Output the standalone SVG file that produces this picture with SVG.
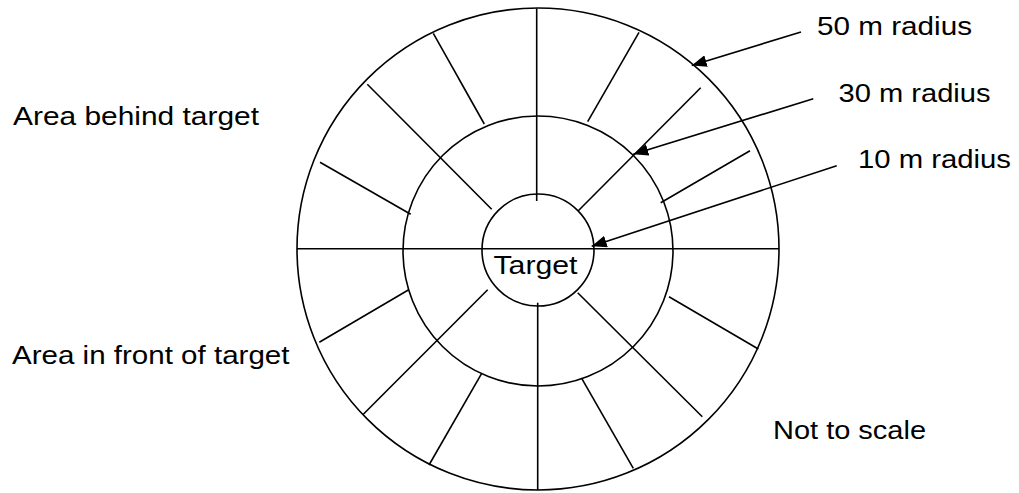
<svg xmlns="http://www.w3.org/2000/svg" width="1019" height="493" viewBox="0 0 1019 493">
<defs>
<style>
.ln{stroke:#000;stroke-width:1.6;fill:none}
.tx{font-family:"Liberation Sans",Arial,sans-serif;font-size:26.5px;fill:#000}
</style>
<marker id="ah" viewBox="0 0 15 12" refX="15" refY="6" markerWidth="15" markerHeight="12" markerUnits="userSpaceOnUse" orient="auto">
<path d="M0,0 L15,6 L0,12 Z" fill="#000"/>
</marker>
</defs>
<rect width="1019" height="493" fill="#fff"/>
<g id="rings">
<circle class="ln" cx="538" cy="249" r="241"/>
<circle class="ln" cx="538" cy="251" r="135"/>
<circle class="ln" cx="538" cy="250" r="56"/>
</g>
<g id="sectors">
<line class="ln" x1="297" y1="248.7" x2="779" y2="248.7"/>
<line class="ln" x1="536.7" y1="8.5" x2="536.7" y2="201"/>
<line class="ln" x1="537.7" y1="302.7" x2="537.7" y2="490"/>
<line class="ln" x1="433.3" y1="33.3" x2="484.3" y2="124"/>
<line class="ln" x1="367.3" y1="84.3" x2="491.7" y2="209.3"/>
<line class="ln" x1="320" y1="162.3" x2="410.7" y2="214.3"/>
<line class="ln" x1="639" y1="32.3" x2="587.7" y2="121.7"/>
<line class="ln" x1="700.7" y1="87.7" x2="578.3" y2="210.7"/>
<line class="ln" x1="750" y1="150.7" x2="660.7" y2="202.7"/>
<line class="ln" x1="319.3" y1="342.3" x2="408.3" y2="290"/>
<line class="ln" x1="363.3" y1="414.3" x2="487.7" y2="289.7"/>
<line class="ln" x1="429" y1="465" x2="481.7" y2="373.3"/>
<line class="ln" x1="669" y1="296.7" x2="758.3" y2="349"/>
<line class="ln" x1="577.7" y1="292.7" x2="702.3" y2="416.7"/>
<line class="ln" x1="581.7" y1="378.3" x2="633.3" y2="468.3"/>
</g>
<g id="connectors">
<line class="ln" x1="801" y1="32" x2="691.7" y2="65.5" marker-end="url(#ah)"/>
<line class="ln" x1="813.3" y1="98.7" x2="633.3" y2="154.3" marker-end="url(#ah)"/>
<line class="ln" x1="836.7" y1="165.7" x2="591.7" y2="246.2" marker-end="url(#ah)"/>
</g>
<g id="label-50"><text class="tx" x="817" y="35" textLength="155" lengthAdjust="spacingAndGlyphs">50 m radius</text></g>
<g id="label-30"><text class="tx" x="838.5" y="101.5" textLength="152" lengthAdjust="spacingAndGlyphs">30 m radius</text></g>
<g id="label-10"><text class="tx" x="858" y="168.3" textLength="153" lengthAdjust="spacingAndGlyphs">10 m radius</text></g>
<g id="label-behind"><text class="tx" x="13" y="125" textLength="246" lengthAdjust="spacingAndGlyphs">Area behind target</text></g>
<g id="label-front"><text class="tx" x="12" y="364.3" textLength="277.5" lengthAdjust="spacingAndGlyphs">Area in front of target</text></g>
<g id="label-scale"><text class="tx" x="773" y="439.3" textLength="153" lengthAdjust="spacingAndGlyphs">Not to scale</text></g>
<g id="target"><text class="tx" x="493.5" y="274.3" textLength="84" lengthAdjust="spacingAndGlyphs">Target</text></g>
</svg>
